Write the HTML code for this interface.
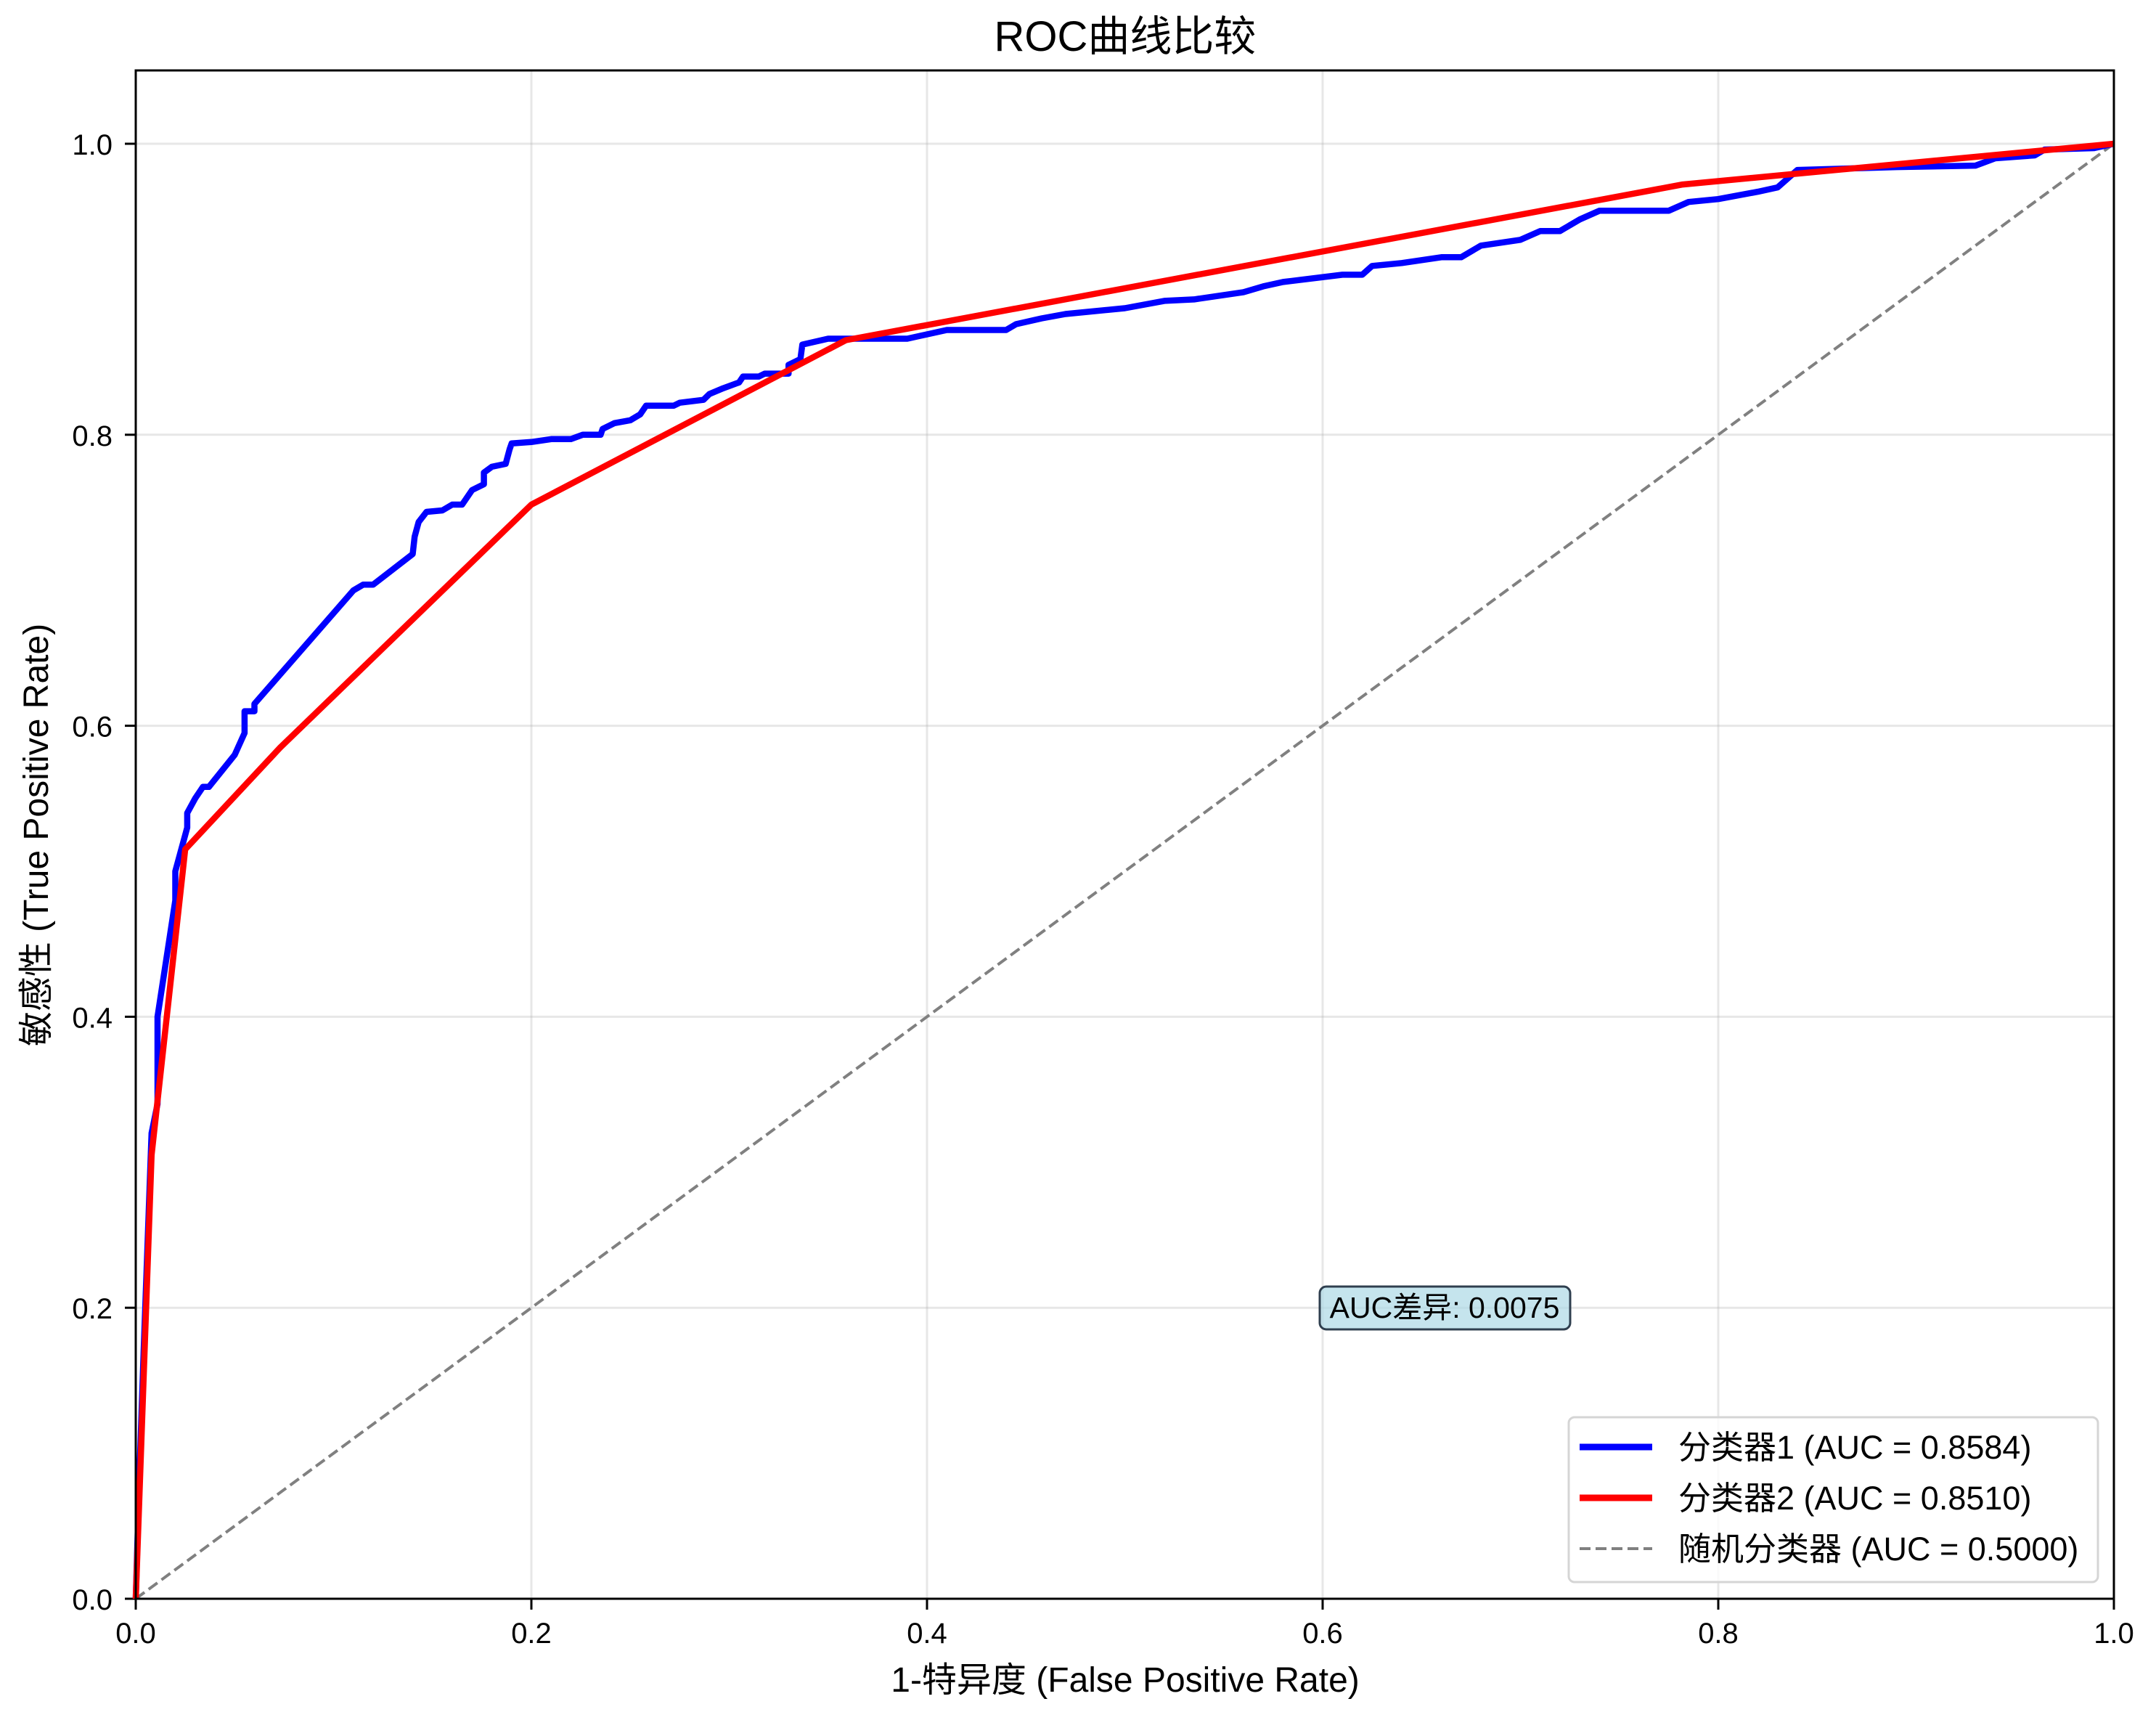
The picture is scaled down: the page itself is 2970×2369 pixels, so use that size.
<!DOCTYPE html>
<html><head><meta charset="utf-8">
<style>
html,body{margin:0;padding:0;background:#fff;}
svg{display:block;font-family:"Liberation Sans","Noto Sans CJK SC",sans-serif;}
</style></head>
<body>
<svg id="chart" width="2970" height="2369" viewBox="0 0 2970 2369" xmlns="http://www.w3.org/2000/svg">
<rect x="0" y="0" width="2970" height="2369" fill="#fff"/>
<g id="grid"></g>
<g id="ticks"></g>
<g id="series"></g>
<rect x="187" y="97" width="2725" height="2105" fill="none" stroke="#000" stroke-width="3"/>
<text x="1550" y="70" font-size="58" text-anchor="middle">ROC曲线比较</text>
<text x="1550" y="2330" font-size="48" text-anchor="middle">1-特异度 (False Positive Rate)</text>
<text x="0" y="0" font-size="48" text-anchor="middle" transform="translate(66,1150) rotate(-90)">敏感性 (True Positive Rate)</text>
<g>
<rect x="1818" y="1772" width="345" height="59" rx="9" fill="#add8e6" fill-opacity="0.7" stroke="#2f3f4f" stroke-width="3"/>
<text x="1990" y="1815" font-size="41" text-anchor="middle">AUC差异: 0.0075</text>
</g>
<g>
<rect x="2161" y="1952" width="729" height="227" rx="8" fill="#fff" fill-opacity="0.8" stroke="#d5d5d5" stroke-width="3"/>
<line x1="2176" y1="1993" x2="2276" y2="1993" stroke="#0000ff" stroke-width="9"/>
<text x="2312" y="2009" font-size="45">分类器1 (AUC = 0.8584)</text>
<line x1="2176" y1="2063" x2="2276" y2="2063" stroke="#ff0000" stroke-width="9"/>
<text x="2312" y="2079" font-size="45">分类器2 (AUC = 0.8510)</text>
<line x1="2176" y1="2133" x2="2276" y2="2133" stroke="#808080" stroke-width="4" stroke-dasharray="15,7"/>
<text x="2312" y="2149" font-size="45">随机分类器 (AUC = 0.5000)</text>
</g>
</svg>
<script>
const xTicks=[0,0.2,0.4,0.6,0.8,1.0];
const yTicks=[0,0.2,0.4,0.6,0.8,1.0];
const xTickLabels=["0.0","0.2","0.4","0.6","0.8","1.0"];
const yTickLabels=["0.0","0.2","0.4","0.6","0.8","1.0"];
const fpr1=[0,0.002,0.004,0.008,0.011,0.011,0.02,0.02,0.026,0.026,0.03,0.034,0.037,0.05,0.055,0.055,0.06,0.06,0.11,0.115,0.12,0.14,0.141,0.143,0.147,0.155,0.16,0.165,0.17,0.176,0.176,0.18,0.187,0.189,0.19,0.2,0.21,0.22,0.226,0.235,0.236,0.242,0.25,0.255,0.258,0.272,0.275,0.287,0.29,0.297,0.305,0.307,0.315,0.318,0.33,0.33,0.336,0.337,0.35,0.39,0.41,0.44,0.445,0.458,0.47,0.5,0.52,0.535,0.56,0.57,0.58,0.61,0.62,0.625,0.64,0.66,0.67,0.68,0.7,0.71,0.72,0.73,0.74,0.775,0.785,0.8,0.82,0.83,0.84,0.89,0.93,0.94,0.96,0.965,0.99,1];
const tpr1=[0,0.09,0.17,0.32,0.34,0.40,0.48,0.50,0.53,0.54,0.55,0.558,0.558,0.58,0.595,0.61,0.61,0.615,0.693,0.697,0.697,0.718,0.73,0.74,0.747,0.748,0.752,0.752,0.762,0.766,0.774,0.778,0.78,0.79,0.794,0.795,0.797,0.797,0.8,0.8,0.804,0.808,0.81,0.814,0.82,0.82,0.822,0.824,0.828,0.832,0.836,0.84,0.84,0.842,0.842,0.848,0.852,0.862,0.866,0.866,0.872,0.872,0.876,0.88,0.883,0.887,0.892,0.893,0.898,0.902,0.905,0.91,0.91,0.916,0.918,0.922,0.922,0.93,0.934,0.94,0.94,0.948,0.954,0.954,0.96,0.962,0.967,0.97,0.982,0.984,0.985,0.99,0.992,0.996,0.997,1];
const fpr2=[0,0.008,0.025,0.073,0.2,0.359,0.782,1];
const tpr2=[0,0.305,0.515,0.585,0.752,0.865,0.972,1];
const diagX=[0,1];
const diagY=[0,1];

const NS="http://www.w3.org/2000/svg";
const X0=187,X1=2912,Y0=2202,Y1=198;
function sx(v){return X0+(X1-X0)*v;}
function sy(v){return Y0-(Y0-Y1)*v;}
function mk(tag,attrs,parent){const e=document.createElementNS(NS,tag);for(const k in attrs)e.setAttribute(k,attrs[k]);parent.appendChild(e);return e;}
const grid=document.getElementById('grid'),ticks=document.getElementById('ticks'),series=document.getElementById('series');
xTicks.forEach((t,i)=>{
  const g=mk('line',{x1:sx(t),x2:sx(t),y1:97,y2:2202,stroke:'#b0b0b0','stroke-opacity':0.3,'stroke-width':3},grid);
  
  
  const tk=mk('line',{x1:sx(t),x2:sx(t),y1:2202,y2:2217,stroke:'#000','stroke-width':3},ticks);
  
  
  const lb=mk('text',{x:sx(t),y:2263,'font-size':40,'text-anchor':'middle'},ticks);
  lb.textContent=xTickLabels[i];
  
  
});
yTicks.forEach((t,i)=>{
  const g=mk('line',{x1:187,x2:2912,y1:sy(t),y2:sy(t),stroke:'#b0b0b0','stroke-opacity':0.3,'stroke-width':3},grid);
  
  
  const tk=mk('line',{x1:172,x2:187,y1:sy(t),y2:sy(t),stroke:'#000','stroke-width':3},ticks);
  
  
  const lb=mk('text',{x:155,y:sy(t)+15,'font-size':40,'text-anchor':'end'},ticks);
  lb.textContent=yTickLabels[i];
  
  
});
function pts(xs,ys){return xs.map((v,i)=>sx(v).toFixed(1)+','+sy(ys[i]).toFixed(1)).join(' ');}
const d=mk('polyline',{points:pts(diagX,diagY),fill:'none',stroke:'#808080','stroke-width':4,'stroke-dasharray':'15,7'},series);


const b=mk('polyline',{points:pts(fpr1,tpr1),fill:'none',stroke:'#0000ff','stroke-width':8.5,'stroke-linejoin':'round'},series);


const r=mk('polyline',{points:pts(fpr2,tpr2),fill:'none',stroke:'#ff0000','stroke-width':8.5,'stroke-linejoin':'round'},series);


</script>
</body></html>
